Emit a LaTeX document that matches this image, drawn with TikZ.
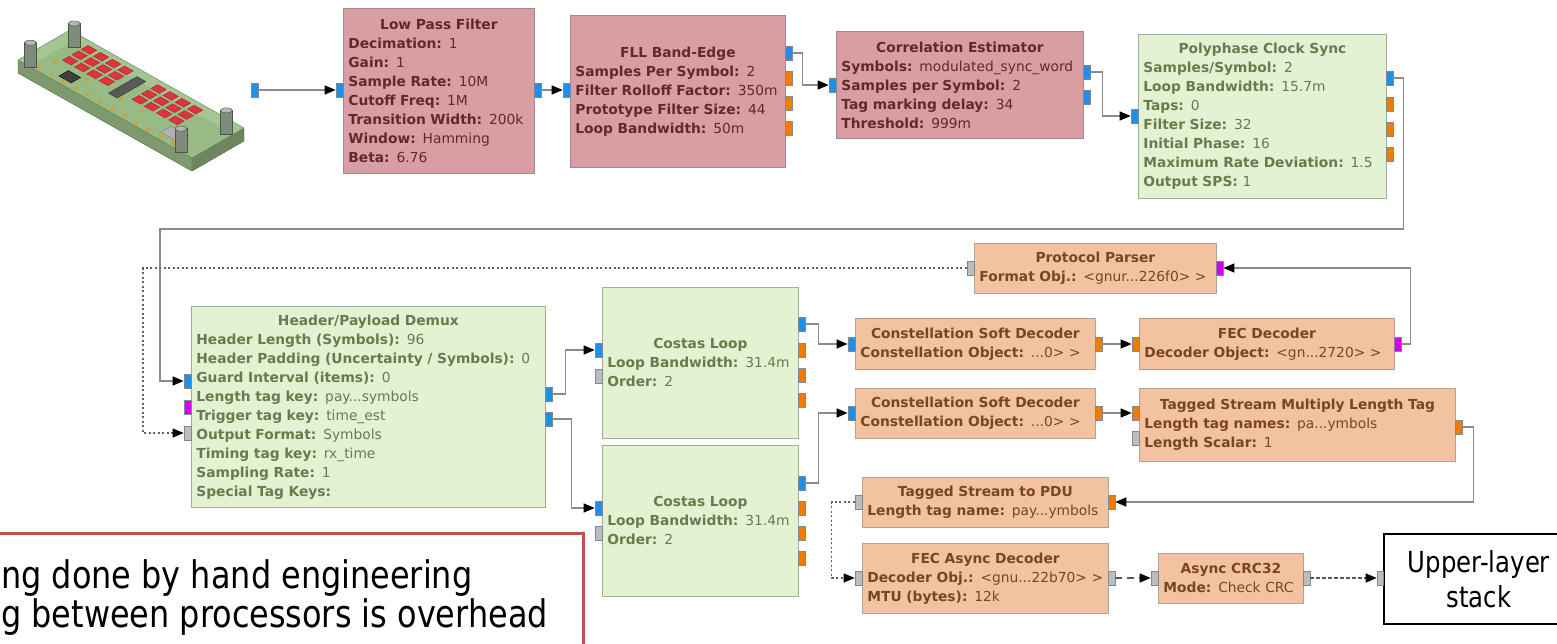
\documentclass[tikz,border=0pt]{standalone}
\usepackage{fontspec}
\setmainfont{DejaVu Sans}
\newfontfamily\capfont[FakeStretch=0.84]{DejaVu Sans}
\usetikzlibrary{arrows.meta}
\definecolor{pinkfill}{HTML}{D99EA4}
\definecolor{pinkline}{HTML}{A8878A}
\definecolor{pinktext}{HTML}{5E2A2A}
\definecolor{greenfill}{HTML}{E4F2D4}
\definecolor{greenline}{HTML}{A3AC98}
\definecolor{greentext}{HTML}{6B7A4C}
\definecolor{salmfill}{HTML}{F3C2A0}
\definecolor{salmline}{HTML}{B9A08F}
\definecolor{salmtext}{HTML}{7A4622}
\definecolor{portblue}{HTML}{1E8FEA}
\definecolor{portorange}{HTML}{F27C00}
\definecolor{portmag}{HTML}{D600F0}
\definecolor{portgray}{HTML}{BDBDBD}
\definecolor{portline}{HTML}{7D8A96}
\definecolor{wiregray}{HTML}{8A8A8A}
\definecolor{capred}{HTML}{C0504D}
\definecolor{boardgreen}{HTML}{9CBF88}
\definecolor{boardedge}{HTML}{5F8652}
\definecolor{chipred}{HTML}{E2333D}
\definecolor{chipedge}{HTML}{A0262C}
\definecolor{padgold}{HTML}{C9A243}
\definecolor{standoff}{HTML}{7F8C7C}
\newcommand\ttl[1]{\makebox[\linewidth]{\bfseries #1}}
\newcommand\kv[2]{\mbox{\textbf{#1} #2}}
\tikzset{
  blk/.style={draw, line width=0.8pt, anchor=north west, inner xsep=5pt, inner ysep=0pt,
    align=left, font=\fontsize{13.8}{19}\selectfont},
  pinkblk/.style={blk, fill=pinkfill, draw=pinkline, text=pinktext},
  greenblk/.style={blk, fill=greenfill, draw=greenline, text=greentext},
  salmblk/.style={blk, fill=salmfill, draw=salmline, text=salmtext},
  port/.style={draw=portline, line width=0.6pt, minimum width=7pt, minimum height=14pt, inner sep=0pt},
  bport/.style={port, fill=portblue},
  oport/.style={port, fill=portorange},
  mport/.style={port, fill=portmag},
  gport/.style={port, fill=portgray},
  wire/.style={draw=wiregray, line width=1.3pt},
  msg/.style={draw=wiregray!70!black, line width=1.1pt, dash pattern=on 2pt off 2.5pt},
  msgdash/.style={draw=black!65, line width=1.2pt, dash pattern=on 7pt off 5pt},
  msgfine/.style={draw=black!65, line width=1.1pt, dash pattern=on 4pt off 2pt},
  arr/.style={-{Triangle[length=11pt,width=9pt,black]}},
  chip/.style={fill=chipred, draw=chipedge, line width=0.4pt},
}
\begin{document}
\begin{tikzpicture}[x=1pt,y=-1pt]
  \useasboundingbox (0,0) rectangle (1557,644);
  \begin{scope}[shift={(18pt,-60pt)}, x={(174pt,-98pt)}, y={(52pt,30pt)}]
    \filldraw[fill=boardgreen!75!black, draw=boardedge, yshift=-13pt] (0,0) -- (1,0) -- (1,1) -- (0,1) -- cycle;
    \filldraw[fill=boardgreen!80!black, draw=boardedge] (0,0) -- (1,0) -- ([yshift=-13pt]1,0) -- ([yshift=-13pt]0,0) -- cycle;
    \filldraw[fill=boardgreen!70!black, draw=boardedge] (1,0) -- (1,1) -- ([yshift=-13pt]1,1) -- ([yshift=-13pt]1,0) -- cycle;
    \filldraw[fill=boardgreen, fill opacity=0.9, draw=boardedge] (0,0) -- (1,0) -- (1,1) -- (0,1) -- cycle;
    \foreach \cu in {0.13,0.2,0.27,0.34}
      \foreach \cv in {0.42,0.6,0.78}
        \filldraw[chip] (\cu,\cv) -- ++(0.05,0) -- ++(0,0.13) -- ++(-0.05,0) -- cycle;
    \foreach \cu in {0.53,0.6,0.67,0.74}
      \foreach \cv in {0.42,0.6,0.78}
        \filldraw[chip] (\cu,\cv) -- ++(0.05,0) -- ++(0,0.13) -- ++(-0.05,0) -- cycle;
    \filldraw[fill=black!65, draw=black!80] (0.43,0.3) -- (0.48,0.3) -- (0.48,0.85) -- (0.43,0.85) -- cycle;
    \filldraw[fill=black!75, draw=black] (0.2,0.12) -- (0.27,0.12) -- (0.27,0.3) -- (0.2,0.3) -- cycle;
    \filldraw[fill=gray!60, draw=gray] (0.78,0.14) -- (0.88,0.14) -- (0.88,0.34) -- (0.78,0.34) -- cycle;
    \foreach \cu in {0.1,0.17,...,0.9}
      \fill[padgold] (\cu,0.07) circle (2.3pt);
    \foreach \cu in {0.12,0.3,0.5,0.62,0.85}
      \fill[padgold] (\cu,0.32) circle (2.3pt);
    \foreach \cu/\cv in {0.03/0.14, 0.06/0.88, 0.94/0.86, 0.9/0.12} {
      \path (\cu,\cv) coordinate (so);
      \filldraw[fill=standoff, draw=standoff!60!black] ([xshift=-6pt,yshift=-8pt]so) rectangle ([xshift=6pt,yshift=16pt]so);
      \filldraw[fill=standoff!60!white, draw=standoff!60!black] ([yshift=16pt]so) ellipse (6pt and 2.5pt);
    }
  \end{scope}

  \node[pinkblk, minimum width=191pt, minimum height=165pt, text width=181pt] (lpf) at (343,8)
    {\ttl{Low Pass Filter}\\ \kv{Decimation:}{1}\\ \kv{Gain:}{1}\\ \kv{Sample Rate:}{10M}\\
     \kv{Cutoff Freq:}{1M}\\ \kv{Transition Width:}{200k}\\ \kv{Window:}{Hamming}\\ \kv{Beta:}{6.76}};
  \node[pinkblk, minimum width=215pt, minimum height=152pt, text width=205pt] (fll) at (570,15)
    {\ttl{FLL Band-Edge}\\ \kv{Samples Per Symbol:}{2}\\ \kv{Filter Rolloff Factor:}{350m}\\
     \kv{Prototype Filter Size:}{44}\\ \kv{Loop Bandwidth:}{50m}};
  \node[pinkblk, minimum width=247pt, minimum height=107pt, text width=237pt] (ce) at (836,31)
    {\ttl{Correlation Estimator}\\ \kv{Symbols:}{modulated\_sync\_word}\\ \kv{Samples per Symbol:}{2}\\
     \kv{Tag marking delay:}{34}\\ \kv{Threshold:}{999m}};
  \node[greenblk, minimum width=248pt, minimum height=164pt, text width=238pt] (pcs) at (1138,34)
    {\ttl{Polyphase Clock Sync}\\ \kv{Samples/Symbol:}{2}\\ \kv{Loop Bandwidth:}{15.7m}\\ \kv{Taps:}{0}\\
     \kv{Filter Size:}{32}\\ \kv{Initial Phase:}{16}\\ \kv{Maximum Rate Deviation:}{1.5}\\ \kv{Output SPS:}{1}};
  \node[greenblk, minimum width=354pt, minimum height=201pt, text width=344pt] (hpd) at (191,306)
    {\ttl{Header/Payload Demux}\\ \kv{Header Length (Symbols):}{96}\\ \kv{Header Padding (Uncertainty / Symbols):}{0}\\
     \kv{Guard Interval (items):}{0}\\ \kv{Length tag key:}{pay...symbols}\\ \kv{Trigger tag key:}{time\_est}\\
     \kv{Output Format:}{Symbols}\\ \kv{Timing tag key:}{rx\_time}\\ \kv{Sampling Rate:}{1}\\ \kv{Special Tag Keys:}{}};
  \node[greenblk, minimum width=196pt, minimum height=151pt, text width=186pt] (c1) at (602,287)
    {\ttl{Costas Loop}\\ \kv{Loop Bandwidth:}{31.4m}\\ \kv{Order:}{2}};
  \node[greenblk, minimum width=196pt, minimum height=151pt, text width=186pt] (c2) at (602,445)
    {\ttl{Costas Loop}\\ \kv{Loop Bandwidth:}{31.4m}\\ \kv{Order:}{2}};
  \node[salmblk, minimum width=242pt, minimum height=50pt, text width=232pt] (pp) at (974,243)
    {\ttl{Protocol Parser}\\ \kv{Format Obj.:}{<gnur...226f0> >}};
  \node[salmblk, minimum width=240pt, minimum height=51pt, text width=230pt] (csd1) at (855,318)
    {\ttl{Constellation Soft Decoder}\\ \kv{Constellation Object:}{...0> >}};
  \node[salmblk, minimum width=240pt, minimum height=50pt, text width=230pt] (csd2) at (855,388)
    {\ttl{Constellation Soft Decoder}\\ \kv{Constellation Object:}{...0> >}};
  \node[salmblk, minimum width=255pt, minimum height=51pt, text width=245pt] (fec) at (1139,318)
    {\ttl{FEC Decoder}\\ \kv{Decoder Object:}{<gn...2720> >}};
  \node[salmblk, minimum width=316pt, minimum height=73pt, text width=306pt] (tsm) at (1139,388)
    {\ttl{Tagged Stream Multiply Length Tag}\\ \kv{Length tag names:}{pa...ymbols}\\ \kv{Length Scalar:}{1}};
  \node[salmblk, minimum width=246pt, minimum height=50pt, text width=236pt] (tsp) at (862,477)
    {\ttl{Tagged Stream to PDU}\\ \kv{Length tag name:}{pay...ymbols}};
  \node[salmblk, minimum width=246pt, minimum height=70pt, text width=236pt] (feca) at (862,543)
    {\ttl{FEC Async Decoder}\\ \kv{Decoder Obj.:}{<gnu...22b70> >}\\ \kv{MTU (bytes):}{12k}};
  \node[salmblk, minimum width=145pt, minimum height=50pt, text width=135pt] (crc) at (1158,553)
    {\ttl{Async CRC32}\\ \kv{Mode:}{Check CRC}};
  \node[draw, line width=1.8pt, anchor=north west, minimum width=190pt, minimum height=90pt, align=center,
    font=\capfont\fontsize{29}{35}\selectfont] (uls) at (1383,533) {Upper-layer\\stack};

  \draw[capred, line width=3pt] (-4,533) rectangle (583,660);
  \node[anchor=base west, inner sep=0pt, font=\capfont\fontsize{38}{39}\selectfont] (cap1) at (1,588) {ng done by hand engineering};
  \node[anchor=base west, inner sep=0pt, font=\capfont\fontsize{38}{39}\selectfont] (cap2) at (1,627) {g between processors is overhead};

  \coordinate (back) at (160,229);
  \coordinate (msgturn) at (143,268);
  \node[bport] (src) at (255,90) {};
  \node[bport] (lpf-in) at (339.5,90) {};
  \node[bport] (lpf-out) at (537.5,90) {};
  \node[bport] (fll-in) at (566.5,90) {};
  \node[bport] (fll-o1) at (788.5,53) {};
  \node[oport] (fll-o2) at (788.5,78) {};
  \node[oport] (fll-o3) at (788.5,103) {};
  \node[oport] (fll-o4) at (788.5,128) {};
  \node[bport] (ce-in) at (832.5,85) {};
  \node[bport] (ce-o1) at (1086.5,72) {};
  \node[bport] (ce-o2) at (1086.5,97) {};
  \node[bport] (pcs-in) at (1134.5,116) {};
  \node[bport] (pcs-o1) at (1389.5,78) {};
  \node[oport] (pcs-o2) at (1389.5,104) {};
  \node[oport] (pcs-o3) at (1389.5,129) {};
  \node[oport] (pcs-o4) at (1389.5,154) {};
  \node[bport] (hpd-in) at (187.5,381) {};
  \node[mport] (hpd-tr) at (187.5,407) {};
  \node[gport] (hpd-msg) at (187.5,433) {};
  \node[bport] (hpd-o1) at (548.5,394) {};
  \node[bport] (hpd-o2) at (548.5,419) {};
  \node[bport] (c1-in) at (598.5,350) {};
  \node[gport] (c1-g) at (598.5,376) {};
  \node[bport] (c1-o1) at (801.5,324) {};
  \node[oport] (c1-o2) at (801.5,350) {};
  \node[oport] (c1-o3) at (801.5,375) {};
  \node[oport] (c1-o4) at (801.5,400) {};
  \node[bport] (c2-in) at (598.5,508) {};
  \node[gport] (c2-g) at (598.5,533) {};
  \node[bport] (c2-o1) at (801.5,483) {};
  \node[oport] (c2-o2) at (801.5,508) {};
  \node[oport] (c2-o3) at (801.5,533) {};
  \node[oport] (c2-o4) at (801.5,558) {};
  \node[gport] (pp-in) at (970.5,268) {};
  \node[mport] (pp-out) at (1219.5,268) {};
  \node[bport] (csd1-in) at (851.5,344) {};
  \node[oport] (csd1-out) at (1098.5,344) {};
  \node[bport] (csd2-in) at (851.5,413) {};
  \node[oport] (csd2-out) at (1098.5,413) {};
  \node[oport] (fec-in) at (1135.5,344) {};
  \node[mport] (fec-out) at (1397.5,344) {};
  \node[oport] (tsm-in) at (1135.5,413) {};
  \node[gport] (tsm-g) at (1135.5,438) {};
  \node[oport] (tsm-out) at (1458.5,427) {};
  \node[gport] (tsp-in) at (858.5,502) {};
  \node[oport] (tsp-out) at (1111.5,502) {};
  \node[gport] (feca-in) at (858.5,578) {};
  \node[gport] (feca-out) at (1111.5,578) {};
  \node[gport] (crc-in) at (1154.5,578) {};
  \node[gport] (crc-out) at (1306.5,578) {};
  \node[gport, minimum width=6pt] (uls-in) at (1380,578) {};

  \draw[wire,arr] (src.east) -- (lpf-in.west);
  \draw[wire,arr] (lpf-out.east) -- (fll-in.west);
  \draw[wire,arr] (fll-o1.east) -- ++(10,0) |- (ce-in.west);
  \draw[wire,arr] (ce-o1.east) -- ++(12,0) |- (pcs-in.west);
  \draw[wire,arr] (pcs-o1.east) -- ++(10,0) |- (back) |- (hpd-in.west);
  \draw[wire,arr] (hpd-o1.east) -- ++(13,0) |- (c1-in.west);
  \draw[wire,arr] (hpd-o2.east) -- ++(19,0) |- (c2-in.west);
  \draw[wire,arr] (c1-o1.east) -- ++(13,0) |- (csd1-in.west);
  \draw[wire,arr] (c2-o1.east) -- ++(13,0) |- (csd2-in.west);
  \draw[wire,arr] (csd1-out.east) -- (fec-in.west);
  \draw[wire,arr] (csd2-out.east) -- (tsm-in.west);
  \draw[wire,arr] (fec-out.east) -- ++(9,0) |- (pp-out.east);
  \draw[wire,arr] (tsm-out.east) -- ++(11,0) |- (tsp-out.east);
  \draw[msg,arr] (pp-in.west) -- (msgturn) |- (hpd-msg.west);
  \draw[msg,arr] (tsp-in.west) -- ++(-23,0) |- (feca-in.west);
  \draw[msgdash,arr] (feca-out.east) -- (crc-in.west);
  \draw[msgfine,arr] (crc-out.east) -- (uls-in.west);
\end{tikzpicture}
\end{document}
